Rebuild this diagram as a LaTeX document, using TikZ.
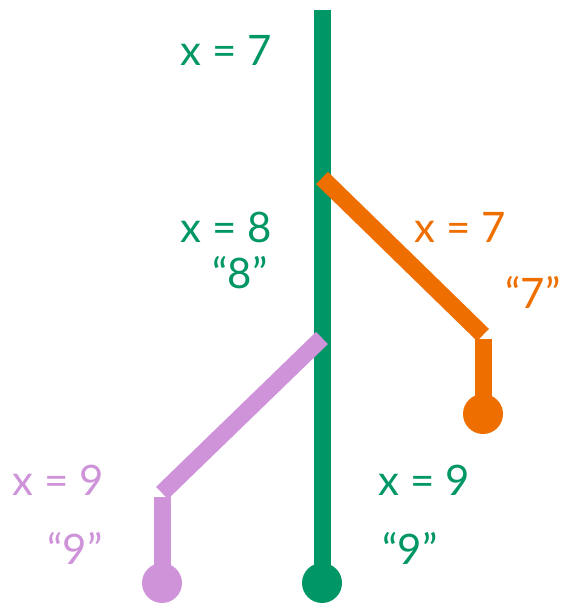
\documentclass[tikz,border=0pt]{standalone}
\usepackage{fontspec}
\setmainfont{Lato}
\usepackage{tikz}
\definecolor{tgreen}{RGB}{0,150,102}
\definecolor{torange}{RGB}{238,110,0}
\definecolor{tpurple}{RGB}{206,147,216}
\tikzset{
  branch/.style={line width=17pt},
  tip/.style={circle,fill,inner sep=0pt,minimum size=40pt},
  lbl/.style={font=\fontsize{42}{48}\selectfont,inner sep=0pt}
}

\begin{document}
\begin{tikzpicture}[x=1pt,y=1pt]
    \useasboundingbox (0,0) rectangle (564,603);
    % points of the three lines
    \coordinate (gtop) at (322,593);
    \coordinate (ofork) at (322,425);
    \coordinate (obend) at (483,268);
    \coordinate (pfork) at (322,265);
    \coordinate (pbend) at (162,110);
    \node[tip,tgreen] (gdot) at (322,20) {};
    \node[tip,torange] (odot) at (483,189) {};
    \node[tip,tpurple] (pdot) at (162,20) {};
    % lines
    \draw[branch,tgreen] (gtop) -- (gdot.center);
    \draw[branch,torange] (ofork) -- (obend);
    \draw[branch,torange] ([yshift=-4]obend) -- (odot.center);
    \draw[branch,tpurple] (pfork) -- (pbend);
    \draw[branch,tpurple] ([yshift=-4]pbend) -- (pdot.center);
    % labels
    \node[lbl,tgreen] (gx7) at (226,553) {x = 7};
    \node[lbl,tgreen] (gx8) at (226,376) {x = 8};
    \node[lbl,tgreen] (gq8) at (240,330) {“8”};
    \node[lbl,torange] (ox7) at (460,376) {x = 7};
    \node[lbl,torange] (oq7) at (533,311) {“7”};
    \node[lbl,tpurple] (px9) at (58,123) {x = 9};
    \node[lbl,tpurple] (pq9) at (75,55) {“9”};
    \node[lbl,tgreen] (gx9) at (424,123) {x = 9};
    \node[lbl,tgreen] (gq9) at (410,55) {“9”};
\end{tikzpicture}
\end{document}
